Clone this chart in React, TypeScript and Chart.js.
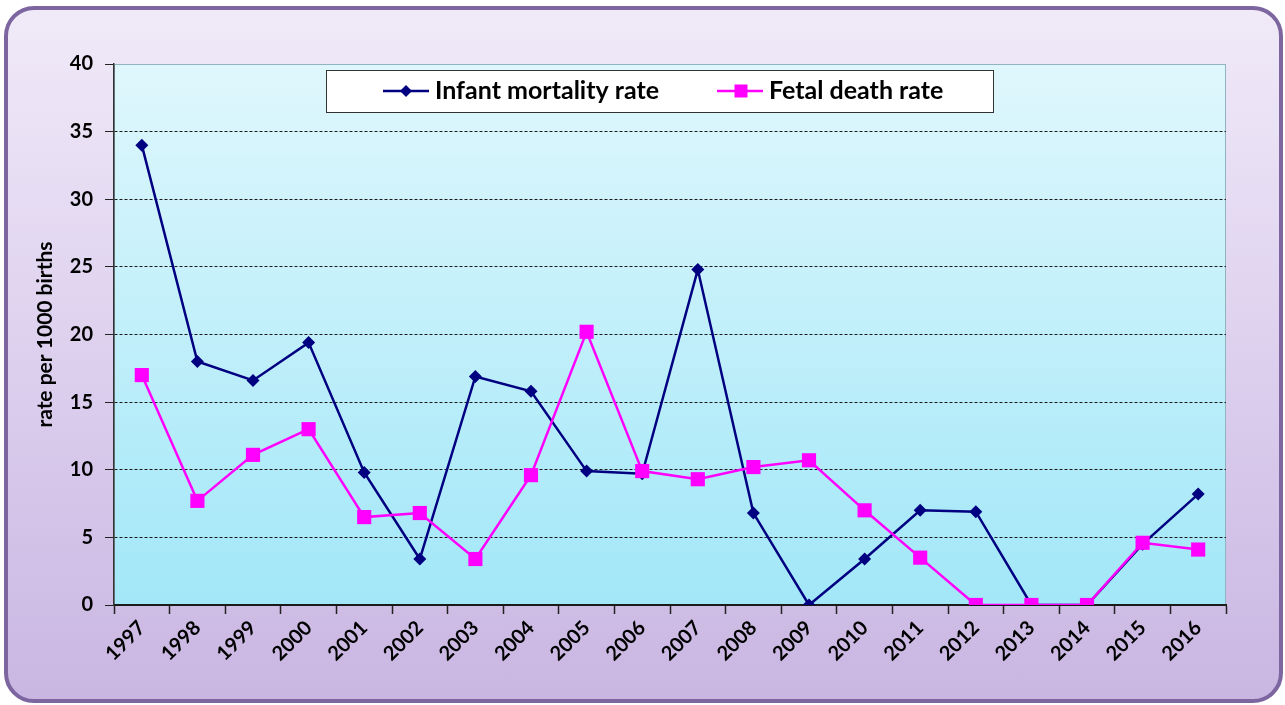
import React, { useEffect, useRef } from "react";
import { Chart, registerables } from "chart.js";

Chart.register(...registerables);

const years = ["1997","1998","1999","2000","2001","2002","2003","2004","2005","2006","2007","2008","2009","2010","2011","2012","2013","2014","2015","2016"];
const infantMortality = [34.0, 18.0, 16.6, 19.4, 9.8, 3.4, 16.9, 15.8, 9.9, 9.7, 24.8, 6.8, 0, 3.4, 7.0, 6.9, 0, 0, 4.5, 8.2];
const fetalDeath = [17.0, 7.7, 11.1, 13.0, 6.5, 6.8, 3.4, 9.6, 20.2, 9.9, 9.3, 10.2, 10.7, 7.0, 3.5, 0, 0, 0, 4.6, 4.1];
const seriesNames = ["Infant mortality rate", "Fetal death rate"];
const yTitle = "rate per 1000 births";
const yMin = 0;
const yMax = 40;
const yStep = 5;

const FONT = "Lato, 'Open Sans', sans-serif";

const plotBgPlugin = {
  id: "plotBg",
  beforeDraw(chart: any) {
    const { ctx, chartArea } = chart;
    if (!chartArea) return;
    const g = ctx.createLinearGradient(0, chartArea.top, 0, chartArea.bottom);
    g.addColorStop(0, "#dff7fc");
    g.addColorStop(1, "#a2e7f8");
    ctx.save();
    ctx.fillStyle = g;
    ctx.fillRect(chartArea.left, chartArea.top, chartArea.right - chartArea.left, chartArea.bottom - chartArea.top);
    ctx.strokeStyle = "#8fb3bf";
    ctx.lineWidth = 1;
    ctx.strokeRect(chartArea.left + 0.5, chartArea.top + 0.5, chartArea.right - chartArea.left - 1, chartArea.bottom - chartArea.top - 1);
    ctx.restore();
  },
};

const legendBoxPlugin = {
  id: "legendBox",
  afterDatasetsDraw(chart: any) {
    const { ctx, chartArea } = chart;
    const x0 = chartArea.left + 212;
    const y0 = chartArea.top + 6;
    const w = 667;
    const h = 42;
    ctx.save();
    ctx.fillStyle = "#ffffff";
    ctx.fillRect(x0, y0, w, h);
    ctx.strokeStyle = "#333333";
    ctx.lineWidth = 1;
    ctx.strokeRect(x0 + 0.5, y0 + 0.5, w, h);
    const cy = y0 + h / 2;
    const items = [
      { lx: 383, text: seriesNames[0] },
      { lx: 717, text: seriesNames[1] },
    ];
    chart.data.datasets.forEach((ds: any, i: number) => {
      const lx = items[i].lx;
      ctx.strokeStyle = ds.borderColor;
      ctx.lineWidth = 2.5;
      ctx.beginPath();
      ctx.moveTo(lx, cy);
      ctx.lineTo(lx + 46, cy);
      ctx.stroke();
      ctx.fillStyle = ds.pointBackgroundColor;
      if (ds.pointStyle === "rect") {
        ctx.fillRect(lx + 24 - 6.5, cy - 6.5, 13, 13);
      } else {
        ctx.beginPath();
        ctx.moveTo(lx + 23, cy - 6);
        ctx.lineTo(lx + 29, cy);
        ctx.lineTo(lx + 23, cy + 6);
        ctx.lineTo(lx + 17, cy);
        ctx.closePath();
        ctx.fill();
      }
      ctx.fillStyle = "#000000";
      ctx.font = `bold 25px ${FONT}`;
      ctx.textBaseline = "middle";
      ctx.textAlign = "left";
      ctx.fillText(ds.label, lx + 52, cy);
    });
    ctx.restore();
  },
};

export default function App() {
  const canvasRef = useRef<HTMLCanvasElement | null>(null);

  useEffect(() => {
    document.body.style.margin = "0";
    const canvas = canvasRef.current;
    if (!canvas) return;
    const chart = new Chart(canvas, {
      type: "line",
      data: {
        labels: years,
        datasets: [
          {
            label: seriesNames[0],
            data: infantMortality,
            borderColor: "#000080",
            backgroundColor: "#000080",
            pointBackgroundColor: "#000080",
            pointBorderColor: "#000080",
            borderWidth: 2.5,
            pointStyle: "rectRot",
            pointRadius: 6.5,
            pointBorderWidth: 0,
            tension: 0,
            order: 2,
          },
          {
            label: seriesNames[1],
            data: fetalDeath,
            borderColor: "#ff00ff",
            backgroundColor: "#ff00ff",
            pointBackgroundColor: "#ff00ff",
            pointBorderColor: "#ff00ff",
            borderWidth: 2.5,
            pointStyle: "rect",
            pointRadius: 10,
            pointBorderWidth: 0,
            tension: 0,
            order: 1,
          },
        ],
      },
      options: {
        animation: false,
        responsive: false,
        maintainAspectRatio: false,
        layout: { padding: { top: 64, right: 59, left: 30, bottom: 0 } },
        plugins: {
          legend: { display: false },
          tooltip: { enabled: false },
        },
        scales: {
          x: {
            type: "category",
            offset: true,
            grid: {
              offset: true,
              drawOnChartArea: false,
              drawTicks: true,
              tickLength: 9,
              tickColor: "#222222",
              tickWidth: 1.5,
            },
            border: { display: true, color: "#1a1a1a", width: 2 },
            ticks: {
              color: "#000000",
              font: { family: FONT, size: 20, weight: "bold" },
              minRotation: 45,
              maxRotation: 45,
              padding: 2,
              autoSkip: false,
            },
            afterFit(scale: any) {
              scale.height = 100;
            },
          },
          y: {
            min: yMin,
            max: yMax,
            grid: {
              color: (c: any) => (c.tick && (c.tick.value === yMax || c.tick.value === yMin) ? "rgba(0,0,0,0)" : "#1a1a1a"),
              lineWidth: 1,
              tickColor: "#222222",
              tickLength: 9,
              tickWidth: 1,
              tickBorderDash: [],
            },
            border: { display: true, color: "#333333", width: 1.5, dash: [3, 2] },
            ticks: {
              stepSize: yStep,
              color: "#000000",
              font: { family: FONT, size: 20, weight: "bold" },
              padding: 12,
            },
            title: {
              display: true,
              text: yTitle,
              color: "#000000",
              font: { family: FONT, size: 21, weight: "bold" },
              padding: { top: 3, bottom: 4 },
            },
            afterFit(scale: any) {
              scale.width = 84;
            },
          },
        },
      },
      plugins: [plotBgPlugin, legendBoxPlugin],
    });
    return () => chart.destroy();
  }, []);

  return (
    <div
      style={{
        position: "absolute",
        left: 0,
        top: 0,
        width: 1285,
        height: 705,
        overflow: "hidden",
      }}
    >
      <div
        style={{
          position: "absolute",
          left: 4,
          top: 6,
          width: 1279,
          height: 697,
          boxSizing: "border-box",
          border: "4px solid #7d66a0",
          borderRadius: 30,
          background: "linear-gradient(to bottom, #f0eaf8 0%, #ddd0ee 50%, #c9b6e2 100%)",
        }}
      />
      <canvas ref={canvasRef} width={1285} height={705} style={{ position: "absolute", left: 0, top: 0 }} />
    </div>
  );
}
